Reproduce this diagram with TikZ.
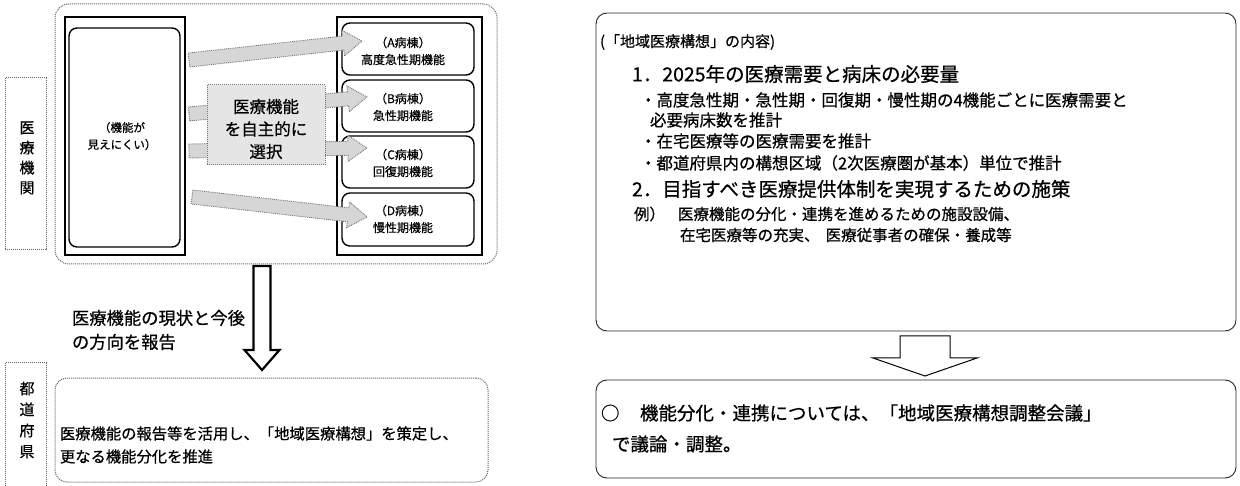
\documentclass[tikz,border=0pt]{standalone}
\usepackage{fontspec}
\setmainfont{Noto Sans CJK JP}[FakeBold=0.6]
\usetikzlibrary{calc}
\newcommand\jpsize[2]{\fontsize{#1pt}{#2pt}\selectfont}
% block arrow: #1 style, #2 from, #3 to, #4 half shaft, #5 half head, #6 head length
\newcommand\blkarrow[6]{%
  \coordinate (bah) at ($(#3)!#6!(#2)$);
  \path[#1] ($(#2)!#4!90:(#3)$) -- ($(bah)!#4!90:(#3)$) -- ($(bah)!#5!90:(#3)$) -- (#3)
    -- ($(bah)!#5!-90:(#3)$) -- ($(bah)!#4!-90:(#3)$) -- ($(#2)!#4!-90:(#3)$) -- cycle;
}
\begin{document}
\begin{tikzpicture}[x=1pt,y=-1pt,
  every node/.style={inner sep=0pt, outer sep=0pt},
  lblbox/.style={draw=black!60, densely dotted, line width=1pt, anchor=north west},
  softbox/.style={draw=black!60, densely dotted, line width=1pt, rounded corners=14pt, anchor=north west},
  heavybox/.style={draw=black, line width=2.4pt, anchor=north west},
  wardbox/.style={draw=black, line width=1.4pt, rounded corners=8pt, anchor=north west, fill=white},
  plainbox/.style={draw=black!85, line width=0.9pt, rounded corners=11pt, anchor=north west},
  selbox/.style={draw=black!55, densely dotted, line width=1pt, fill=black!10, anchor=north west},
  txt/.style={anchor=west, align=left},
  ctxt/.style={align=center},
  greyarrow/.style={fill=black!16, draw=black!55, densely dotted, line width=0.9pt},
  whitearrow/.style={fill=white, draw=black, line width=2.2pt, line join=miter},
  thinarrow/.style={fill=white, draw=black, line width=1pt, line join=miter}]
\useasboundingbox[fill=white] (0,0) rectangle (1240,486);

% ---- side labels
\node[lblbox, minimum width=41pt, minimum height=172pt] (lab1) at (5,78) {};
\node[ctxt, font=\jpsize{15}{20}] (lab1t) at (27,158) {医\\療\\機\\関};
\node[lblbox, minimum width=41pt, minimum height=130pt] (lab2) at (5,363) {};
\node[ctxt, font=\jpsize{15}{21}] (lab2t) at (27,420) {都\\道\\府\\県};

% ---- hospital group
\node[softbox, minimum width=442pt, minimum height=260pt] (outer) at (55,4) {};
\node[heavybox, minimum width=120pt, minimum height=238pt] (leftrect) at (65,17) {};
\node[wardbox, minimum width=111pt, minimum height=219pt] (leftin) at (69,28) {};
\node[ctxt, font=\jpsize{11.5}{17}] (leftt) at (122,136) {（機能が\\見えにくい）};

\node[heavybox, minimum width=145pt, minimum height=238pt] (rightrect) at (337,17) {};
\node[wardbox, minimum width=132pt, minimum height=52pt] (boxA) at (342,23) {};
\node[wardbox, minimum width=132pt, minimum height=52pt] (boxB) at (342,80) {};
\node[wardbox, minimum width=132pt, minimum height=52pt] (boxC) at (342,136) {};
\node[wardbox, minimum width=132pt, minimum height=53pt] (boxD) at (342,193) {};

% ---- grey selection arrows
\coordinate (aA1) at (189,60);  \coordinate (aA2) at (362,41);
\coordinate (aB1) at (189,114); \coordinate (aB2) at (367,97);
\coordinate (aC1) at (189,151); \coordinate (aC2) at (367,148);
\coordinate (aD1) at (192,197); \coordinate (aD2) at (367,217);
\blkarrow{greyarrow}{aA1}{aA2}{7pt}{13pt}{19pt}
\blkarrow{greyarrow}{aB1}{aB2}{7pt}{13pt}{19pt}
\blkarrow{greyarrow}{aC1}{aC2}{7pt}{13pt}{19pt}
\blkarrow{greyarrow}{aD1}{aD2}{7pt}{13pt}{19pt}

\node[ctxt, font=\jpsize{12}{17}] (tA) at (403,51) {（A病棟）\\高度急性期機能};
\node[ctxt, font=\jpsize{12}{17}] (tB) at (403,107) {（B病棟）\\急性期機能};
\node[ctxt, font=\jpsize{12}{17}] (tC) at (403,163) {（C病棟）\\回復期機能};
\node[ctxt, font=\jpsize{12}{17}] (tD) at (403,219) {（D病棟）\\慢性期機能};

\node[selbox, minimum width=118pt, minimum height=80pt] (sel) at (207,85) {};
\node[ctxt, font=\jpsize{16.5}{22.5}] (selt) at (266,129) {医療機能\\を自主的に\\選択};

% ---- report arrow
\coordinate (dn1) at (262,266); \coordinate (dn2) at (262,370);
\blkarrow{whitearrow}{dn1}{dn2}{8.5pt}{17.5pt}{20pt}
\node[txt, font=\jpsize{17.3}{24}] (rep) at (72,330) {医療機能の現状と今後\\の方向を報告};

% ---- prefecture box
\node[softbox, rounded corners=12pt, minimum width=433pt, minimum height=104pt] (pref) at (55,378) {};
\node[txt, font=\jpsize{15.3}{23}] (preft) at (60,445) {医療機能の報告等を活用し、「地域医療構想」を策定し、\\更なる機能分化を推進};

% ---- vision contents box
\node[plainbox, minimum width=640pt, minimum height=318pt] (vision) at (596,13) {};
\node[txt, font=\jpsize{15}{20}] (v0) at (600,42) {(「地域医療構想」の内容)};
\node[txt, font=\jpsize{19.5}{24}] (v1) at (632,74) {1．2025年の医療需要と病床の必要量};
\node[txt, font=\jpsize{16.5}{20}] (v2) at (640,100) {・高度急性期・急性期・回復期・慢性期の4機能ごとに医療需要と};
\node[txt, font=\jpsize{16.5}{20}] (v3) at (650,120) {必要病床数を推計};
\node[txt, font=\jpsize{16.5}{20}] (v4) at (640,141) {・在宅医療等の医療需要を推計};
\node[txt, font=\jpsize{16.5}{20}] (v5) at (640,163) {・都道府県内の構想区域（2次医療圏が基本）単位で推計};
\node[txt, font=\jpsize{19.5}{24}] (v6) at (632,189) {2．目指すべき医療提供体制を実現するための施策};
\node[txt, font=\jpsize{15.5}{20}] (v7a) at (634,214) {例）};
\node[txt, font=\jpsize{15.5}{20}] (v7) at (678,214) {医療機能の分化・連携を進めるための施設設備、};
\node[txt, font=\jpsize{15.5}{20}] (v8) at (680,235) {在宅医療等の充実、\hspace{0.4em}医療従事者の確保・養成等};

% ---- small arrow and coordination box
\coordinate (sa1) at (925,336); \coordinate (sa2) at (925,376);
\blkarrow{thinarrow}{sa1}{sa2}{25pt}{52pt}{18pt}
\node[plainbox, minimum width=640pt, minimum height=98pt] (coord) at (596,380) {};
\node[txt, font=\jpsize{18.5}{26}] (c0) at (601,413) {○};
\node[txt, font=\jpsize{18.5}{26}] (c1) at (640,413) {機能分化・連携については、「地域医療構想調整会議」};
\node[txt, font=\jpsize{18.5}{26}] (c2) at (612,444) {で議論・調整。};
\end{tikzpicture}
\end{document}
